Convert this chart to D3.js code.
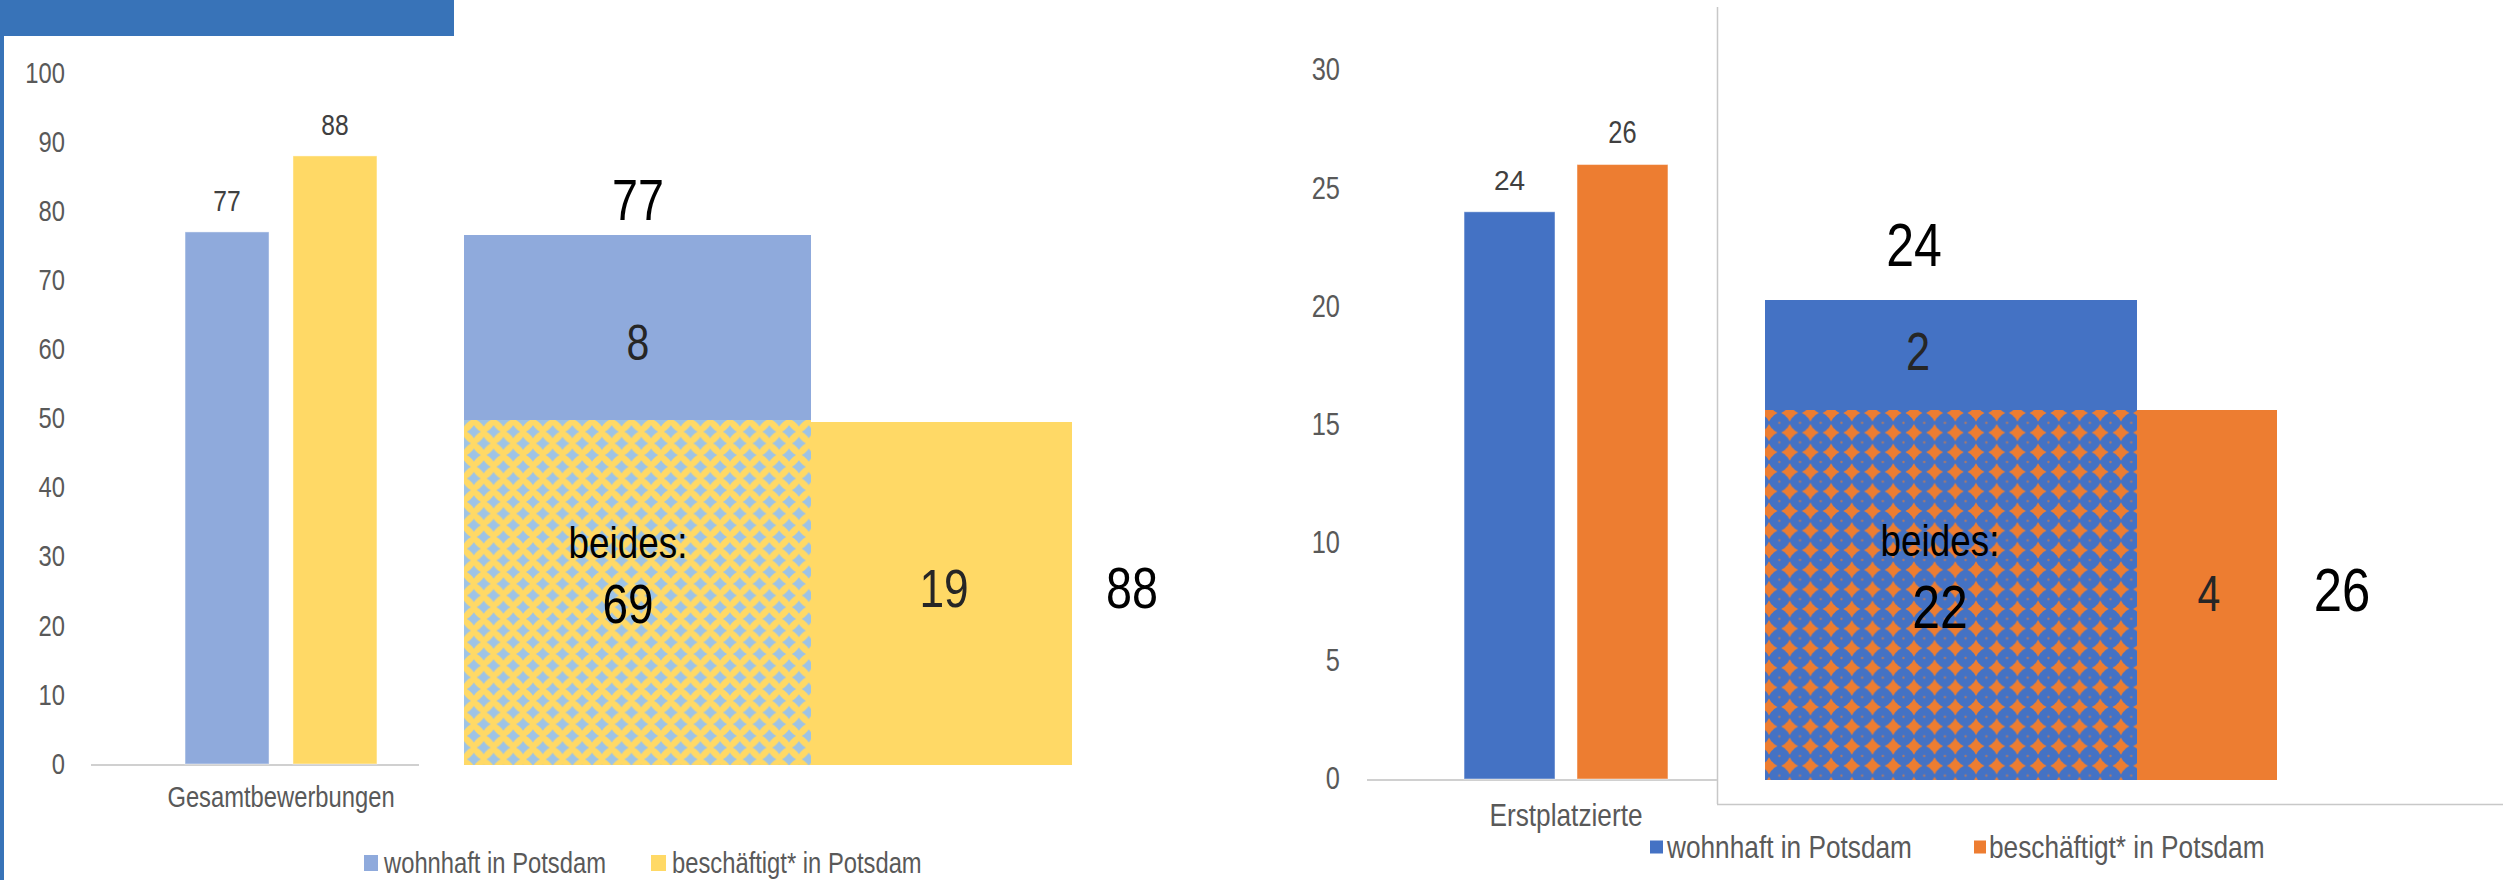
<!DOCTYPE html>
<html><head><meta charset="utf-8">
<script src="https://cdn.jsdelivr.net/npm/d3@7/dist/d3.min.js"></script>
<style>
html,body{margin:0;padding:0;background:#fff;}
svg{display:block;}
</style></head>
<body>
<svg id="chart" width="2503" height="880"></svg>
<script>
// ---------------- DATA ----------------
const categories = ["Gesamtbewerbungen", "Erstplatzierte"];
const seriesNames = ["wohnhaft in Potsdam", "beschäftigt* in Potsdam"];
const wohnhaft = [77, 24];
const beschaeftigt = [88, 26];
const nurWohnhaft = [8, 2];
const beides = [69, 22];
const nurBeschaeftigt = [19, 4];
const ticksLeft = [0, 10, 20, 30, 40, 50, 60, 70, 80, 90, 100];
const ticksRight = [0, 5, 10, 15, 20, 25, 30];
const beidesLabel = "beides:";

// ---------------- STYLE / LAYOUT ----------------
const SANS = "'Liberation Sans',Arial,sans-serif";
const NX = 0.82; // horizontal condensing (narrow look)
const panels = [
  { idx: 0, colors: ["#8FAADC", "#FFD966"], patFg: "#9DC3E6", patBg: "#FFD966", patType: "stagger",
    yRange: [764, 73], domainMax: 100, ticks: ticksLeft, tickX: 65, tickFont: 29,
    xRange: [91, 471], groupPad: 0.49, barPad: 0.222, baseline: [91, 419],
    catY: 797, catFont: 29, valOffset: 31, valFonts: [[NX, 30], [NX, 30]],
    legend: { y: 863, font: 29, sq: [[364, 14, 16], [651, 15, 16]], tx: [384, 672] },
    diag: { x0: 464, x1: 811, x2: 1072, yTop: 235, ySplit: 420, yRight: 422, yBot: 765,
      tot1: [638, 200, 57], only1: [638, 342, 50], bLab: [628, 542, 45], both: [628, 603, 56],
      only2: [944, 588, 54], tot2: [1132, 588, 57] } },
  { idx: 1, colors: ["#4472C4", "#ED7D31"], patFg: "#ED7D31", patBg: "#4472C4", patType: "grid",
    yRange: [779, 70], domainMax: 30, ticks: ticksRight, tickX: 1340, tickFont: 31,
    xRange: [1367, 1765], groupPad: 0.476, barPad: 0.195, baseline: [1367, 1717],
    catY: 815, catFont: 32, valOffset: 32, valFonts: [[1, 28], [NX, 31]],
    legend: { y: 847, font: 32, sq: [[1650, 13, 13], [1974, 12, 13]], tx: [1667, 1989] },
    diag: { x0: 1765, x1: 2137, x2: 2277, yTop: 300, ySplit: 410, yRight: 410, yBot: 780,
      tot1: [1914, 245, 61], only1: [1918, 351, 53], bLab: [1940, 540, 45], both: [1940, 607, 61],
      only2: [2209, 593, 50], tot2: [2342, 589, 62] } }
];

const svg = d3.select("#chart");
const defs = svg.append("defs");

function addText(parent, x, y, txt, size, anchor, fill, sx) {
  return parent.append("text")
    .attr("transform", `translate(${x},${y}) scale(${sx === undefined ? NX : sx},1)`)
    .attr("x", 0).attr("y", 0).attr("dy", "0.35em")
    .attr("text-anchor", anchor).attr("font-family", SANS).attr("font-size", size)
    .attr("fill", fill).text(txt);
}

// header + left border
svg.append("rect").attr("x", 0).attr("y", 0).attr("width", 454).attr("height", 36).attr("fill", "#3873B8");
svg.append("rect").attr("x", 0).attr("y", 0).attr("width", 4).attr("height", 880).attr("fill", "#3873B8");

// right panel frame lines
svg.append("line").attr("x1", 1717.5).attr("x2", 1717.5).attr("y1", 7).attr("y2", 804)
  .attr("stroke", "#C8C8C8").attr("stroke-width", 1.5);
svg.append("line").attr("x1", 1717).attr("x2", 2503).attr("y1", 804.5).attr("y2", 804.5)
  .attr("stroke", "#C8C8C8").attr("stroke-width", 1.5);

function starPath(cx, cy, a, b, c) {
  return `M${cx - a},${cy} L${cx - c},${cy - c} L${cx},${cy - b} L${cx + c},${cy - c} L${cx + a},${cy} L${cx + c},${cy + c} L${cx},${cy + b} L${cx - c},${cy + c} Z`;
}

panels.forEach(p => {
  // patterns
  const pid = "pat" + p.idx;
  if (p.patType === "stagger") {
    const W = 19.7, H = 23.4;
    const pat = defs.append("pattern").attr("id", pid).attr("patternUnits", "userSpaceOnUse")
      .attr("x", p.diag.x0).attr("y", p.diag.ySplit).attr("width", W).attr("height", H);
    pat.append("rect").attr("width", W).attr("height", H).attr("fill", p.patBg);
    [[0, 0], [W, 0], [0, H], [W, H], [W / 2, H / 2]].forEach(([cx, cy]) => {
      pat.append("path").attr("d", starPath(cx, cy, 7, 6.5, 2.8)).attr("fill", p.patFg);
      pat.append("circle").attr("cx", cx).attr("cy", cy).attr("r", 4.3).attr("fill", p.patFg);
    });
  } else {
    const W = 20.7, H = 19.6;
    const pat = defs.append("pattern").attr("id", pid).attr("patternUnits", "userSpaceOnUse")
      .attr("x", p.diag.x0 + 4).attr("y", p.diag.ySplit + 3).attr("width", W).attr("height", H);
    pat.append("rect").attr("width", W).attr("height", H).attr("fill", p.patBg);
    [[0, 0], [W, 0], [0, H], [W, H]].forEach(([cx, cy]) => {
      pat.append("path").attr("d", starPath(cx, cy, 8.5, 8.5, 3.2)).attr("fill", p.patFg);
      pat.append("circle").attr("cx", cx).attr("cy", cy).attr("r", 5.2).attr("fill", p.patFg);
    });
    pat.append("circle").attr("cx", W / 2).attr("cy", H / 2).attr("r", 1.2).attr("fill", p.patFg).attr("opacity", 0.6);
  }

  const y = d3.scaleLinear().domain([0, p.domainMax]).range(p.yRange);
  const x0 = d3.scaleBand().domain([categories[p.idx]]).range(p.xRange).paddingInner(0).paddingOuter(p.groupPad);
  const x1 = d3.scaleBand().domain(seriesNames).range([0, x0.bandwidth()]).paddingInner(p.barPad).paddingOuter(0);

  // y axis
  const axis = d3.axisLeft(y).tickValues(p.ticks).tickSize(0).tickPadding(0);
  const gA = svg.append("g").attr("transform", `translate(${p.tickX},0)`).call(axis);
  gA.select(".domain").remove();
  gA.selectAll("text").attr("font-family", SANS).attr("font-size", p.tickFont).attr("fill", "#595959")
    .attr("transform", `scale(${NX},1)`);

  // baseline
  svg.append("line").attr("x1", p.baseline[0]).attr("x2", p.baseline[1])
    .attr("y1", y(0) + 1).attr("y2", y(0) + 1).attr("stroke", "#D0D0D0").attr("stroke-width", 2);

  // bars
  const vals = [wohnhaft[p.idx], beschaeftigt[p.idx]];
  const cat = categories[p.idx];
  const g = svg.append("g").attr("transform", `translate(${x0(cat)},0)`);
  g.selectAll("rect.bar").data(vals).join("rect").attr("class", "bar")
    .attr("x", (d, i) => x1(seriesNames[i])).attr("width", x1.bandwidth())
    .attr("y", d => y(d)).attr("height", d => y(0) - y(d))
    .attr("fill", (d, i) => p.colors[i]).attr("stroke", "rgba(255,255,255,0.45)").attr("stroke-width", 1);
  vals.forEach((v, i) => {
    addText(g, x1(seriesNames[i]) + x1.bandwidth() / 2, y(v) - p.valOffset, v,
      p.valFonts[i][1], "middle", "#404040", p.valFonts[i][0]);
  });

  // category label
  addText(svg, x0(cat) + x0.bandwidth() / 2, p.catY, cat, p.catFont, "middle", "#595959");

  // legend
  seriesNames.forEach((s, i) => {
    const sq = p.legend.sq[i];
    svg.append("rect").attr("x", sq[0]).attr("y", p.legend.y - sq[2] / 2).attr("width", sq[1]).attr("height", sq[2])
      .attr("fill", p.colors[i]);
    addText(svg, p.legend.tx[i], p.legend.y, s, p.legend.font, "start", "#595959");
  });

  // overlap diagram (schematic)
  const d = p.diag;
  svg.append("rect").attr("x", d.x0).attr("y", d.yTop).attr("width", d.x1 - d.x0).attr("height", d.ySplit - d.yTop)
    .attr("fill", p.colors[0]);
  svg.append("rect").attr("x", d.x1).attr("y", d.yRight).attr("width", d.x2 - d.x1).attr("height", d.yBot - d.yRight)
    .attr("fill", p.colors[1]);
  svg.append("rect").attr("x", d.x0).attr("y", d.ySplit).attr("width", d.x1 - d.x0).attr("height", d.yBot - d.ySplit)
    .attr("fill", `url(#${pid})`);

  const labels = [
    [d.tot1, wohnhaft[p.idx], "#000"],
    [d.only1, nurWohnhaft[p.idx], "#262626"],
    [d.bLab, beidesLabel, "#000"],
    [d.both, beides[p.idx], "#000"],
    [d.only2, nurBeschaeftigt[p.idx], "#262626"],
    [d.tot2, beschaeftigt[p.idx], "#000"]
  ];
  labels.forEach(([pos, t, col]) => {
    addText(svg, pos[0], pos[1], t, pos[2], "middle", col);
  });
});
</script>
</body></html>
